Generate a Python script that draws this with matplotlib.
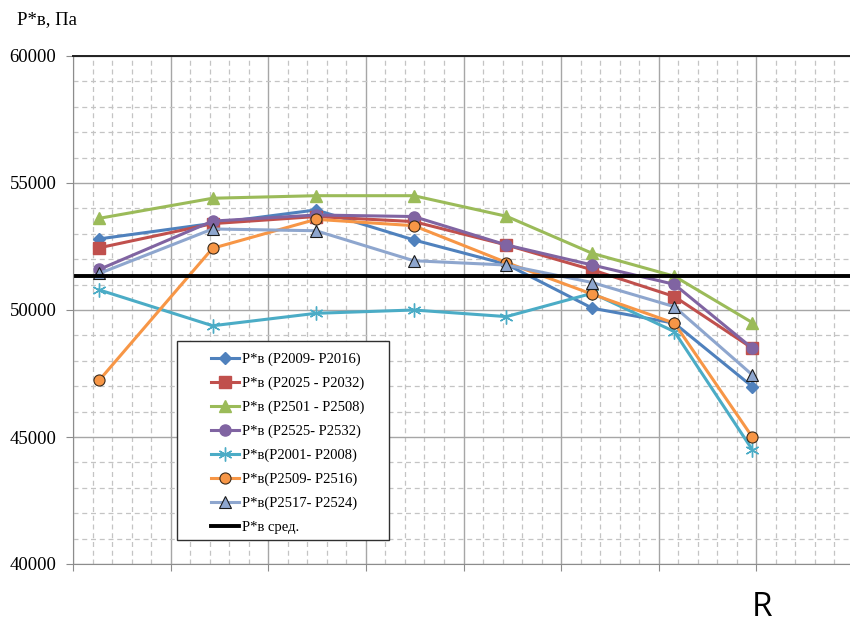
import matplotlib
matplotlib.use('Agg')
import matplotlib.pyplot as plt
from matplotlib.patches import Rectangle
from matplotlib.ticker import MultipleLocator, NullFormatter

# радиальные сечения (условные единицы по оси R)
r_pos = [0.27, 1.43, 2.49, 3.49, 4.44, 5.32, 6.16, 6.96]

p_2009_2016 = [52800, 53410, 53940, 52760, 51800, 50070, 49480, 46980]
p_2025_2032 = [52450, 53400, 53680, 53480, 52560, 51580, 50530, 48490]
p_2501_2508 = [53610, 54400, 54500, 54500, 53690, 52230, 51330, 49500]
p_2525_2532 = [51600, 53500, 53740, 53680, 52560, 51770, 51010, 48490]
p_2001_2008 = [50790, 49380, 49870, 50000, 49740, 50660, 49150, 44490]
p_2509_2516 = [47240, 52430, 53570, 53320, 51870, 50620, 49480, 44990]
p_2517_2524 = [51440, 53190, 53120, 51940, 51770, 51080, 50130, 47440]
p_mean = 51340

series_names = ['P*в (P2009- P2016)', 'P*в (P2025 - P2032)', 'P*в (P2501 - P2508)',
                'P*в (P2525- P2532)', 'P*в(P2001- P2008)', 'P*в(P2509- P2516)',
                'P*в(P2517- P2524)']
series_data = [p_2009_2016, p_2025_2032, p_2501_2508, p_2525_2532,
               p_2001_2008, p_2509_2516, p_2517_2524]
colors = ['#4F81BD', '#C0504D', '#9BBB59', '#8064A2', '#4BACC6', '#F79646', '#8EA6CE']
markers = ['D', 's', '^', 'o', (6, 2, 0), 'o', '^']
msizes = [6, 8, 8, 8, 10, 8, 8]
edges = [None, None, None, None, None, '#3A2A1A', '#1A1A1A']

plt.rcParams['font.family'] = ['Liberation Serif', 'DejaVu Serif']

fig = plt.figure(figsize=(8.5, 6.37), dpi=100)
ax = fig.add_axes([73 / 850, 73 / 637, 781 / 850, 508 / 637])

for name, vals, c, m, ms, ec in zip(series_names, series_data, colors, markers, msizes, edges):
    kw = dict(color=c, marker=m, markersize=ms, linewidth=2.2, label=name)
    if ec is not None:
        kw['markeredgecolor'] = ec
        kw['markeredgewidth'] = 0.8
    else:
        kw['markeredgecolor'] = c
    if m == (6, 2, 0):
        kw['markeredgewidth'] = 1.0
    ax.plot(r_pos, vals, **kw)

ax.axhline(p_mean, color='black', linewidth=2.8, label='P*в сред.')

ax.set_xlim(0, 8)
ax.set_ylim(40000, 60000)
ax.xaxis.set_major_locator(MultipleLocator(1))
ax.xaxis.set_minor_locator(MultipleLocator(0.2))
ax.yaxis.set_major_locator(MultipleLocator(5000))
ax.yaxis.set_minor_locator(MultipleLocator(1000))
ax.xaxis.set_major_formatter(NullFormatter())

ax.grid(which='major', color='#A6A6A6', linewidth=1.0, linestyle='-')
ax.grid(which='minor', color='#C4C4C4', linewidth=0.9, linestyle=(0, (4, 3)))
ax.set_axisbelow(True)

for s in ['left', 'bottom']:
    ax.spines[s].set_color('#8C8C8C')
ax.spines['top'].set_color('#202020')
ax.spines['top'].set_linewidth(1.4)
ax.spines['right'].set_visible(False)

ax.tick_params(which='major', direction='out', length=5, color='#8C8C8C',
               labelsize=13.5, pad=7)
ax.tick_params(which='minor', length=0)

# рамка легенды с широкими полями по бокам
box = Rectangle((177 / 850, 1 - 540 / 637), 212 / 850, 199 / 637,
                transform=fig.transFigure, facecolor='white',
                edgecolor='#303030', linewidth=1.0, zorder=4)
fig.add_artist(box)
leg = ax.legend(loc='upper left', bbox_to_anchor=(211 / 850, 1 - 353 / 637),
                bbox_transform=fig.transFigure, fontsize=10.5, frameon=False,
                handlelength=1.9, labelspacing=0.72, borderpad=0.0,
                borderaxespad=0.0, handletextpad=0.25)
leg.set_zorder(5)
fig.add_artist(leg)

fig.text(17 / 850, 1 - 20 / 637, 'P*в, Па', fontsize=13.5, va='center', ha='left')
fig.text(762 / 850, 1 - 607 / 637, 'R', fontsize=24, va='center', ha='center',
         family=['Open Sans', 'DejaVu Sans'])

fig.savefig('out.png', dpi=100)
